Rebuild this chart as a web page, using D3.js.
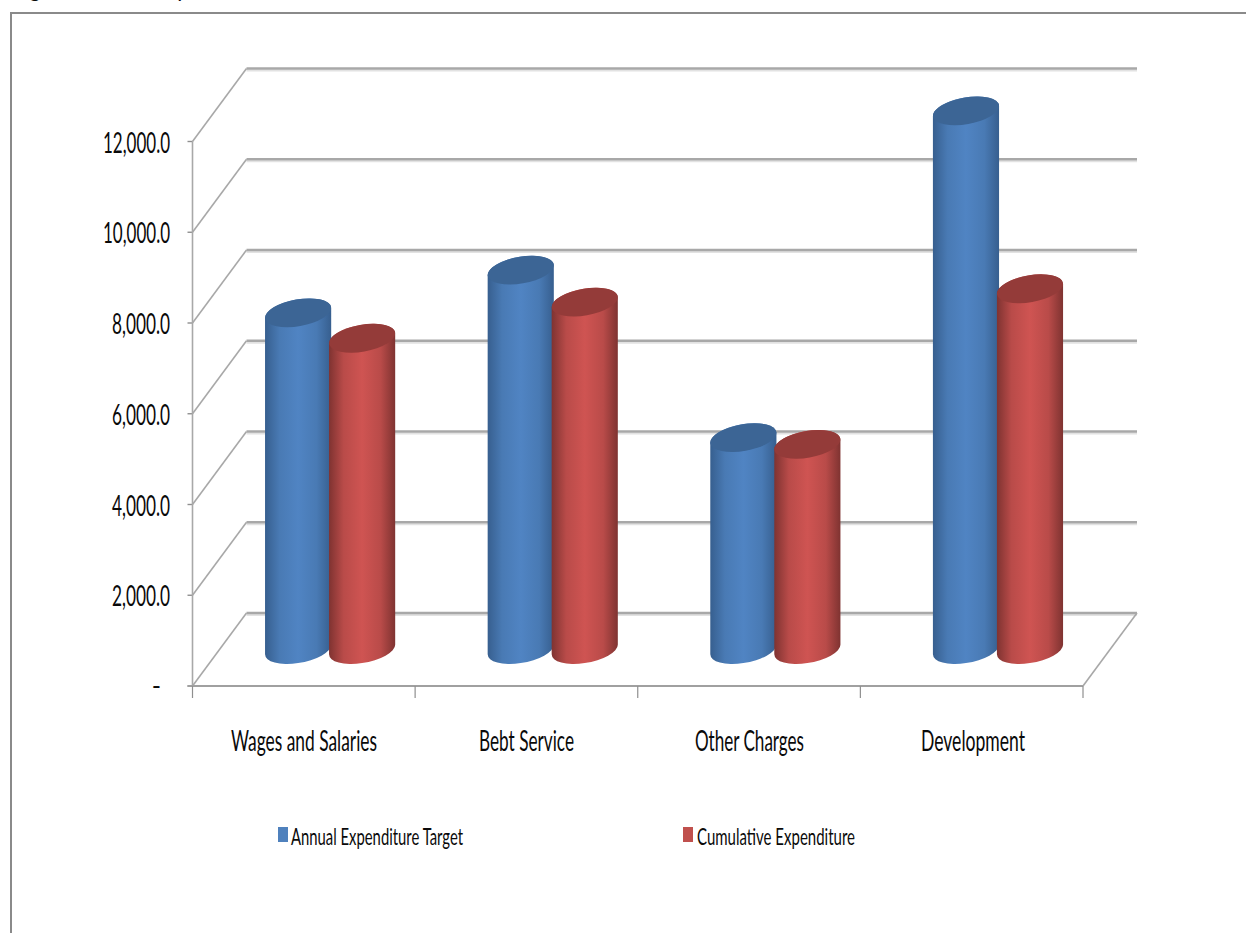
<!DOCTYPE html>
<html>
<head>
<meta charset="utf-8">
<script src="https://cdn.jsdelivr.net/npm/d3@7"></script>
<style>
html,body{margin:0;padding:0;background:#fff;overflow:hidden}
svg{display:block}
text{font-family:Lato,"Open Sans",sans-serif;fill:#0a0a0a}
</style>
</head>
<body>
<svg id="chart" width="1246" height="933"></svg>
<script>
// Expenditure by vote, drawn as paired 3-D cylinders on a perspective floor.
const categories = ["Wages and Salaries", "Bebt Service", "Other Charges", "Development"];
const seriesNames = ["Annual Expenditure Target", "Cumulative Expenditure"];
const annualTarget = [7420, 8360, 4670, 11870];
const cumulative = [6860, 7655, 4520, 7950];
const yTickValues = [0, 2000, 4000, 6000, 8000, 10000, 12000];
const yTickLabels = ["-", "12,000.0", "10,000.0", "8,000.0", "6,000.0", "4,000.0", "2,000.0"];

const svg = d3.select("#chart");
const W = 1246, H = 933;

// Front plane of the plot and the oblique depth offset of the back wall
const left = 192.5, right = 1083, bottom = 686, top12k = 141.5;
const depthX = 54, depthY = 73;

const x = d3.scaleBand().domain(categories).range([left, right]);
const y = d3.scaleLinear().domain([0, 12000]).range([bottom, top12k]);
const inner = d3.scaleBand().domain(seriesNames).range([-64, 64]);

const colors = {
  [seriesNames[0]]: {edge: "#375f8f", mid: "#5084c3", top: "#3c6595", key: "#4f81bd"},
  [seriesNames[1]]: {edge: "#7f3331", mid: "#cf5452", top: "#943b39", key: "#c0504d"}
};

const defs = svg.append("defs");
seriesNames.forEach((name, i) => {
  const g = defs.append("linearGradient").attr("id", "body" + i);
  [[0, "edge"], [0.22, "blend"], [0.5, "mid"], [0.78, "blend"], [1, "edge"]].forEach(([o, k]) => {
    const c = k === "blend" ? d3.interpolateRgb(colors[name].edge, colors[name].mid)(0.72) : colors[name][k];
    g.append("stop").attr("offset", o).attr("stop-color", c);
  });
});

// Outer chart frame, open at the right and the bottom of the page
svg.append("path")
  .attr("d", `M11,${H}V13H${W}`)
  .attr("fill", "none").attr("stroke", "#8a8a8a").attr("stroke-width", 2);

// Heading line that runs off the top of the page
svg.append("text")
  .attr("x", 14).attr("y", -3)
  .attr("font-size", 22).attr("font-style", "italic")
  .attr("textLength", 174).attr("lengthAdjust", "spacingAndGlyphs")
  .text("Figure 11, January");

// Gridlines: side-wall diagonal plus back-wall line for each tick
const gridColor = "#a8a8a8";
const grid = svg.append("g").attr("fill", "none");
yTickValues.forEach(v => {
  const yy = y(v), by = yy - depthY;
  grid.append("line").attr("x1", left + depthX).attr("x2", right + depthX)
    .attr("y1", by + 2).attr("y2", by + 2).attr("stroke", "#e2e2e2").attr("stroke-width", 2);
  grid.append("line").attr("x1", left + depthX).attr("x2", right + depthX)
    .attr("y1", by).attr("y2", by).attr("stroke", gridColor).attr("stroke-width", 2.4);
  grid.append("line").attr("x1", left).attr("y1", yy).attr("x2", left + depthX).attr("y2", by)
    .attr("stroke", gridColor).attr("stroke-width", 1.6);
  grid.append("line").attr("x1", left - 5).attr("x2", left).attr("y1", yy).attr("y2", yy)
    .attr("stroke", "#8f8f8f").attr("stroke-width", 1.4);
});

// Vertical value axis, floor front edge, floor right edge and category ticks
grid.append("line").attr("x1", left).attr("x2", left).attr("y1", y(12000)).attr("y2", bottom)
  .attr("stroke", gridColor).attr("stroke-width", 1.6);
grid.append("line").attr("x1", left - 5).attr("x2", right).attr("y1", bottom).attr("y2", bottom)
  .attr("stroke", "#a0a0a0").attr("stroke-width", 2.2);
grid.append("line").attr("x1", right).attr("y1", bottom).attr("x2", right + depthX).attr("y2", bottom - depthY)
  .attr("stroke", gridColor).attr("stroke-width", 1.6);
x.domain().map(c => x(c)).concat([right]).forEach(px => {
  grid.append("line").attr("x1", px).attr("x2", px).attr("y1", bottom).attr("y2", bottom + 12)
    .attr("stroke", "#8f8f8f").attr("stroke-width", 1.2);
});

// Tilted ellipse used for cylinder ends, in px and degrees
const rx = 33.5, ry = 13.4, tilt = -10;
const rad = tilt * Math.PI / 180;
const halfW = Math.sqrt(rx * rx * Math.cos(rad) ** 2 + ry * ry * Math.sin(rad) ** 2);
const sideDy = -(rx * rx - ry * ry) * Math.sin(rad) * Math.cos(rad) / halfW;

const rows = seriesNames.flatMap((name, s) =>
  categories.map((c, i) => ({name, s, c, value: (s === 0 ? annualTarget : cumulative)[i]})));

const bars = svg.append("g").selectAll("g.cyl")
  .data(rows.sort((a, b) => categories.indexOf(a.c) - categories.indexOf(b.c) || a.s - b.s))
  .join("g").attr("class", "cyl");

const cx = d => x(d.c) + x.bandwidth() / 2 + depthX / 2 - 0.7 + inner(d.name) + inner.bandwidth() / 2;
const midDepth = v => y(v) - depthY / 2;

bars.append("path")
  .attr("fill", d => `url(#body${d.s})`)
  .attr("d", d => {
    const l = cx(d) - halfW, r = cx(d) + halfW;
    const y0 = midDepth(0), y1 = midDepth(d.value);
    return `M${l},${y1 + sideDy}L${l},${y0 + sideDy}` +
      `A${rx},${ry} ${tilt} 0 0 ${r},${y0 - sideDy}` +
      `L${r},${y1 - sideDy}A${rx},${ry} ${tilt} 0 0 ${l},${y1 + sideDy}Z`;
  });

bars.append("ellipse")
  .attr("rx", rx).attr("ry", ry)
  .attr("fill", d => colors[d.name].top)
  .attr("transform", d => `translate(${cx(d)},${midDepth(d.value)}) rotate(${tilt})`);

// Squeezed labels: width is fixed with textLength, as in the condensed original type
function label(px, py, str, size, len, anchor) {
  return svg.append("text")
    .attr("x", px).attr("y", py)
    .attr("font-size", size)
    .attr("text-anchor", anchor || "start")
    .attr("textLength", len).attr("lengthAdjust", "spacingAndGlyphs")
    .text(str);
}

// Value labels, top of the axis first
const yLabelWidths = [67, 67, 58, 58, 58, 58];
yTickValues.slice(1).reverse().forEach((v, i) => {
  label(170, y(v) + 11, yTickLabels[i + 1], 28, yLabelWidths[i], "end");
});
svg.append("text").attr("x", 161).attr("y", y(0) + 9)
  .attr("font-size", 25).attr("text-anchor", "end").text(yTickLabels[0]);

// Category labels
const catStart = [231, 479, 695, 921];
const catWidth = [146, 95, 109, 104];
categories.forEach((c, i) => label(catStart[i], 750.5, c, 28, catWidth[i]));

// Legend
const legendX = [278, 683];
const legendTextX = [291, 697];
const legendTextW = [172, 158];
seriesNames.forEach((name, i) => {
  svg.append("rect").attr("x", legendX[i]).attr("y", 827)
    .attr("width", 10).attr("height", 15).attr("fill", colors[name].key);
  label(legendTextX[i], 845, name, 23.5, legendTextW[i]);
});
</script>
</body>
</html>
